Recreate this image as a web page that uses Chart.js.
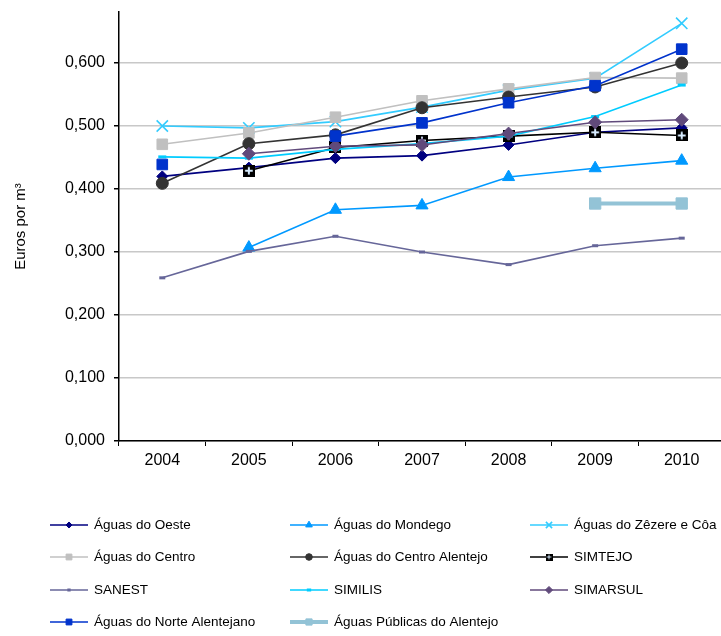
<!DOCTYPE html>
<html>
<head>
<meta charset="utf-8">
<script src="https://cdn.jsdelivr.net/npm/chart.js@4.4.1/dist/chart.umd.min.js"></script>
<style>
  html, body { margin: 0; padding: 0; background: #fff; overflow: hidden; }
  #wrap { width: 721px; height: 636px; overflow: hidden; }
</style>
</head>
<body>
<div id="wrap"><canvas id="tarifas-chart" width="725" height="636"></canvas></div>
<script>
// Data (Euros por m3)
const years = ["2004", "2005", "2006", "2007", "2008", "2009", "2010"];

const aguasOeste          = [0.420, 0.434, 0.449, 0.453, 0.470, 0.490, 0.497];
const aguasMondego        = [null, 0.307, 0.367, 0.374, 0.419, 0.433, 0.445];
const aguasZezereCoa      = [0.500, 0.497, 0.507, 0.530, 0.557, 0.576, 0.663];
const aguasCentro         = [0.471, 0.489, 0.514, 0.540, 0.559, 0.577, 0.576];
const aguasCentroAlentejo = [0.409, 0.472, 0.486, 0.529, 0.546, 0.562, 0.600];
const simtejo             = [null, 0.429, 0.466, 0.477, 0.484, 0.490, 0.485];
const sanest              = [0.259, 0.301, 0.325, 0.300, 0.280, 0.310, 0.322];
const similis             = [0.451, 0.449, 0.463, 0.472, 0.484, 0.515, 0.565];
const simarsul            = [null, 0.456, 0.468, 0.470, 0.488, 0.506, 0.510];
const aguasNorteAlentejano = [0.439, null, 0.484, 0.505, 0.537, 0.564, 0.622];
const aguasPublicasAlentejo = [null, null, null, null, null, 0.377, 0.377];

const yTicks = [0, 0.1, 0.2, 0.3, 0.4, 0.5, 0.6];

const FONT = '"Liberation Sans", Arial, sans-serif';
Chart.defaults.font.family = FONT;
Chart.defaults.color = "#000";

// black square with a light cross (SIMTEJO marker)
function crossBox(size) {
    let c = document.createElement("canvas");
    c.width = size; c.height = size;
    let g = c.getContext("2d");
    g.fillStyle = "#000";
    g.fillRect(0, 0, size, size);
    g.strokeStyle = "#d8ecff";
    g.lineWidth = Math.max(1, Math.round(size / 6));
    g.beginPath();
    g.moveTo(size / 2, size * 0.18); g.lineTo(size / 2, size * 0.82);
    g.moveTo(size * 0.18, size / 2); g.lineTo(size * 0.82, size / 2);
    g.stroke();
    return c;
}
const simtejoMark = crossBox(12);
const simtejoSmall = crossBox(7);

function serie(label, data, color, style, radius, extra) {
    return Object.assign({
        label: label,
        data: data,
        borderColor: color,
        backgroundColor: color,
        pointBackgroundColor: color,
        pointBorderColor: color,
        borderWidth: 1.6,
        pointStyle: style,
        pointRadius: radius,
        pointBorderWidth: 1,
        tension: 0,
        spanGaps: false
    }, extra || {});
}

const datasets = [
    serie("Águas do Oeste", aguasOeste, "#000080", "rectRot", 5.5),
    serie("Águas do Mondego", aguasMondego, "#0099FF", "triangle", 7),
    serie("Águas do Zêzere e Côa", aguasZezereCoa, "#33CCFF", "crossRot", 8, { pointBorderWidth: 1.6 }),
    serie("Águas do Centro", aguasCentro, "#C0C0C0", "rect", 7.5),
    serie("Águas do Centro Alentejo", aguasCentroAlentejo, "#333333", "circle", 6),
    serie("SIMTEJO", simtejo, "#000000", simtejoMark, 6, { legendStyle: simtejoSmall }),
    serie("SANEST", sanest, "#666699", "line", 3, { pointBorderWidth: 3 }),
    serie("SIMILIS", similis, "#00CCFF", "line", 4, { pointBorderWidth: 3 }),
    serie("SIMARSUL", simarsul, "#604A7B", "rectRot", 6.5),
    serie("Águas do Norte Alentejano", aguasNorteAlentejano, "#0033CC", "rect", 7.5),
    serie("Águas Públicas do Alentejo", aguasPublicasAlentejo, "#93C3D6", "rect", 8, { borderWidth: 4 })
];
// later series drawn on top, like the original
datasets.forEach((d, i) => { d.order = -i; });

// three-column legend under the plot
const gridLegend = {
    id: "gridLegend",
    afterDraw(chart) {
        const ctx = chart.ctx;
        const colX = [50, 290, 530];
        const rowY = [525, 557, 590, 622];
        chart.data.datasets.forEach((ds, i) => {
            const x0 = colX[i % 3], y = rowY[Math.floor(i / 3)];
            ctx.save();
            ctx.strokeStyle = ds.borderColor;
            ctx.lineWidth = ds.borderWidth;
            ctx.beginPath();
            ctx.moveTo(x0, y); ctx.lineTo(x0 + 38, y);
            ctx.stroke();
            ctx.fillStyle = ds.pointBackgroundColor;
            ctx.strokeStyle = ds.pointBorderColor;
            ctx.lineWidth = ds.pointBorderWidth;
            Chart.helpers.drawPoint(ctx, {
                pointStyle: ds.legendStyle || ds.pointStyle,
                radius: ds.pointRadius * 0.55,
                borderWidth: ds.pointBorderWidth,
                rotation: 0
            }, x0 + 19, y);
            ctx.fillStyle = "#000";
            ctx.font = "13.5px " + FONT;
            ctx.textBaseline = "middle";
            ctx.textAlign = "left";
            ctx.fillText(ds.label, x0 + 44, y);
            ctx.restore();
        });
    }
};

let tarifasId = document.getElementById("tarifas-chart");

let TarifasChart = new Chart(tarifasId, {
    type: "line",
    data: { labels: years, datasets: datasets },
    plugins: [gridLegend],
    options: {
        responsive: false,
        animation: false,
        events: [],
        layout: { autoPadding: false, padding: { top: 12, left: 0, right: 0, bottom: 165 } },
        plugins: {
            legend: { display: false },
            tooltip: { enabled: false }
        },
        scales: {
            x: {
                offset: true,
                grid: {
                    offset: true,
                    drawOnChartArea: false,
                    tickColor: "#000",
                    tickLength: 5
                },
                border: { color: "#000", width: 1.5 },
                ticks: { font: { size: 16 }, padding: 5, maxRotation: 0 },
                afterFit(scale) {
                    scale.height = 30;
                    scale.paddingLeft = 0;
                    scale.paddingRight = 0;
                }
            },
            y: {
                min: 0,
                max: 0.681,
                grid: {
                    color: "#C8C8C8",
                    lineWidth: 1.5,
                    tickColor: "#000",
                    tickLength: 5
                },
                border: { color: "#000", width: 1.5 },
                afterBuildTicks(scale) { scale.ticks = yTicks.map(v => ({ value: v })); },
                ticks: {
                    font: { size: 16 },
                    padding: 9,
                    callback: (v) => v.toFixed(3).replace(".", ",")
                },
                title: {
                    display: true,
                    text: "Euros por m³",
                    font: { size: 15 },
                    padding: { top: 12, bottom: 0 }
                },
                afterFit(scale) {
                    scale.width = 119;
                    scale.paddingTop = 0;
                    scale.paddingBottom = 0;
                }
            }
        }
    }
});
</script>
</body>
</html>
